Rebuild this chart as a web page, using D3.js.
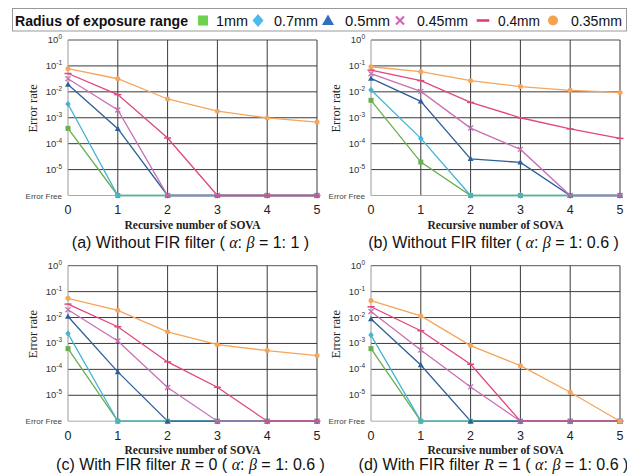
<!DOCTYPE html>
<html><head><meta charset="utf-8">
<script src="https://cdn.jsdelivr.net/npm/d3@7"></script>
<style>
body{margin:0;background:#fff;}
svg{display:block;}
</style></head>
<body><svg id="c" width="627" height="474"></svg>
<script>
// ---- data ----
const xTicks = [0,1,2,3,4,5];
const seriesNames = ["1mm","0.7mm","0.5mm","0.45mm","0.4mm","0.35mm"];
const seriesColors = ["#6aae4e","#45b3d6","#2e5f98","#c870b4","#e2457f","#f5a55c"];
const legendColors = ["#6fd24c","#4db9ef","#2f6fc0","#d55db2","#e8387c","#f6a24e"];
const seriesShapes = ["square","diamond","triangle","cross","dash","circle"];
const yTickExps = [0,-1,-2,-3,-4,-5];
const errorFreeLabel = "Error Free";
// 0 = Error Free
const panelA = [
  [0.00039,0,0,0,0,0],
  [0.0034,0,0,0,0,0],
  [0.019,0.00038,0,0,0,0],
  [0.032,0.002,0,0,0,0],
  [0.051,0.0078,0.000165,0,0,0],
  [0.078,0.032,0.0053,0.0018,0.00098,0.00068]
];
const panelB = [
  [0.0047,0.0000195,0,0,0,0],
  [0.0117,0.00016,0,0,0,0],
  [0.033,0.0043,0.000026,0.000019,0,0],
  [0.05,0.0104,0.0004,0.00006,0,0],
  [0.069,0.027,0.0039,0.001,0.00037,0.00016],
  [0.093,0.06,0.027,0.016,0.0114,0.0095]
];
const panelC = [
  [0.00063,0,0,0,0,0],
  [0.0024,0,0,0,0,0],
  [0.011,0.00008,0,0,0,0],
  [0.02,0.00125,0.00002,0,0,0],
  [0.033,0.0044,0.000194,0.0000204,0,0],
  [0.055,0.019,0.0028,0.0009,0.00053,0.00034]
];
const panelD = [
  [0.00063,0,0,0,0,0],
  [0.0021,0,0,0,0,0],
  [0.0088,0.000148,0,0,0,0],
  [0.017,0.00056,0.000021,0,0,0],
  [0.026,0.0031,0.000158,0,0,0],
  [0.045,0.0115,0.00083,0.000139,0.0000131,0]
];
const captionParts = [
  [["(a) Without FIR filter ( ",""],["α","i"],[": ",""],["β","i"],[" = 1: 1 )",""]],
  [["(b) Without FIR filter ( ",""],["α","i"],[": ",""],["β","i"],[" = 1: 0.6 )",""]],
  [["(c) With FIR filter ",""],["R","i"],[" = 0 ( ",""],["α","i"],[": ",""],["β","i"],[" = 1: 0.6 )",""]],
  [["(d) With FIR filter ",""],["R","i"],[" = 1 ( ",""],["α","i"],[": ",""],["β","i"],[" = 1: 0.6 )",""]]
];
const panels = [panelA,panelB,panelC,panelD];

// ---- layout ----
const svg = d3.select("#c");
const W = 249, H = 155.5;
const origins = [[68,40],[371,40],[68,265.7],[371,265.7]];
const EF = 1e-6;

function marker(g, shape, color, x, y, s){
  if(shape==="square") g.append("rect").attr("x",x-s/2).attr("y",y-s/2).attr("width",s).attr("height",s).attr("fill",color);
  else if(shape==="diamond") g.append("path").attr("d",`M${x},${y-s*0.65}L${x+s*0.55},${y}L${x},${y+s*0.65}L${x-s*0.55},${y}Z`).attr("fill",color);
  else if(shape==="triangle") g.append("path").attr("d",`M${x},${y-s*0.6}L${x+s*0.6},${y+s*0.45}L${x-s*0.6},${y+s*0.45}Z`).attr("fill",color);
  else if(shape==="cross") g.append("path").attr("d",`M${x-s/2},${y-s/2}L${x+s/2},${y+s/2}M${x+s/2},${y-s/2}L${x-s/2},${y+s/2}`).attr("stroke",color).attr("stroke-width",Math.max(1.2,s/4)).attr("fill","none");
  else if(shape==="dash") g.append("path").attr("d",`M${x-s*0.7},${y}L${x+s*0.7},${y}`).attr("stroke",color).attr("stroke-width",Math.max(1.5,s/3.5));
  else if(shape==="circle") g.append("circle").attr("cx",x).attr("cy",y).attr("r",s/2).attr("fill",color);
}

panels.forEach((data,pi)=>{
  const [ox,oy] = origins[pi];
  const g = svg.append("g").attr("transform",`translate(${ox},${oy})`);
  const x = d3.scaleLinear().domain([0,5]).range([0,W]);
  const y = d3.scaleLog().domain([1,EF]).range([0,H]);
  // horizontal grid
  yTickExps.forEach(e=>{
    g.append("line").attr("x1",0).attr("x2",W).attr("y1",y(Math.pow(10,e))).attr("y2",y(Math.pow(10,e)))
     .attr("stroke", e===0 ? "#555" : "#3a3a3a").attr("stroke-width",1);
  });
  // vertical grid
  xTicks.forEach(t=>{
    g.append("line").attr("x1",x(t)).attr("x2",x(t)).attr("y1",0).attr("y2",H)
     .attr("stroke", t===0 ? "#9a9a9a" : "#3a3a3a").attr("stroke-width",1);
  });
  // bottom (Error Free) line
  g.append("line").attr("x1",0).attr("x2",W).attr("y1",H).attr("y2",H).attr("stroke","#aaa").attr("stroke-width",1);
  // y tick labels
  yTickExps.forEach(e=>{
    const t = g.append("text").attr("x",-6).attr("y",y(Math.pow(10,e))+3)
      .attr("text-anchor","end").attr("font-family","Liberation Sans, Arial, sans-serif").attr("font-size",9.5).attr("fill","#333");
    t.append("tspan").text("10");
    t.append("tspan").attr("font-size",6.5).attr("dy",-4).text(e===0?"0":"-"+(-e));
  });
  g.append("text").attr("x",-6).attr("y",H+3).attr("text-anchor","end")
   .attr("font-family","Liberation Sans, Arial, sans-serif").attr("font-size",8).attr("fill","#444").text(errorFreeLabel);
  // x tick labels
  xTicks.forEach(t=>{
    g.append("text").attr("x",x(t)).attr("y",H+18.5).attr("text-anchor","middle")
     .attr("font-family","Liberation Sans, Arial, sans-serif").attr("font-size",12.5).attr("fill","#222").text(t);
  });
  // axis titles
  g.append("text").attr("x",W/2).attr("y",H+33).attr("text-anchor","middle")
   .attr("font-family","Liberation Serif, Times New Roman, serif").attr("font-weight","bold").attr("font-size",11.5).attr("fill","#222")
   .text("Recursive number of SOVA");
  g.append("text").attr("transform",`translate(${-31},${H*0.44}) rotate(-90)`).attr("text-anchor","middle")
   .attr("font-family","Liberation Serif, Times New Roman, serif").attr("font-size",12.5).attr("fill","#222").text("Error rate");
  // caption
  const capY = pi < 2 ? H+52 : H+48.5;
  const cap = g.append("text").attr("x",W/2-2).attr("y",capY).attr("text-anchor","middle")
   .attr("font-family","Liberation Sans, Arial, sans-serif").attr("font-size",16).attr("fill","#111");
  captionParts[pi].forEach(([s,st])=>{
    const ts = cap.append("tspan").text(s);
    if(st==="i") ts.attr("font-style","italic").attr("font-family","Liberation Serif, Times New Roman, serif");
  });
  // series
  const line = d3.line().x((d,i)=>x(i)).y(d=>y(d>0?d:EF));
  data.forEach((vals,si)=>{
    g.append("path").attr("d",line(vals)).attr("fill","none").attr("stroke",seriesColors[si]).attr("stroke-width",1.3);
  });
  data.forEach((vals,si)=>{
    vals.forEach((v,i)=>marker(g,seriesShapes[si],seriesColors[si],x(i),y(v>0?v:EF),5));
  });
});

// ---- legend ----
const lg = svg.append("g");
lg.append("rect").attr("x",12.5).attr("y",8.5).attr("width",614).attr("height",22.5).attr("fill","#fff").attr("stroke","#999").attr("stroke-width",1);
lg.append("text").attr("x",15).attr("y",26).attr("font-family","Liberation Sans, Arial, sans-serif").attr("font-weight","bold").attr("font-size",14.5)
  .attr("textLength",173).attr("lengthAdjust","spacingAndGlyphs").attr("fill","#111").text("Radius of exposure range");
const legMarkX = [203,258,328,400,483,553];
const legTextX = [216,274,345,417,498,571];
const legTextW = [32,44,45,51,42,51];
seriesNames.forEach((n,i)=>{
  marker(lg,seriesShapes[i],legendColors[i],legMarkX[i],20.5,i===3?8:(i===4?9:10));
  lg.append("text").attr("x",legTextX[i]).attr("y",26).attr("font-family","Liberation Sans, Arial, sans-serif").attr("font-size",14.5)
    .attr("textLength",legTextW[i]).attr("lengthAdjust","spacingAndGlyphs").attr("fill","#111").text(n);
});
</script></body></html>
